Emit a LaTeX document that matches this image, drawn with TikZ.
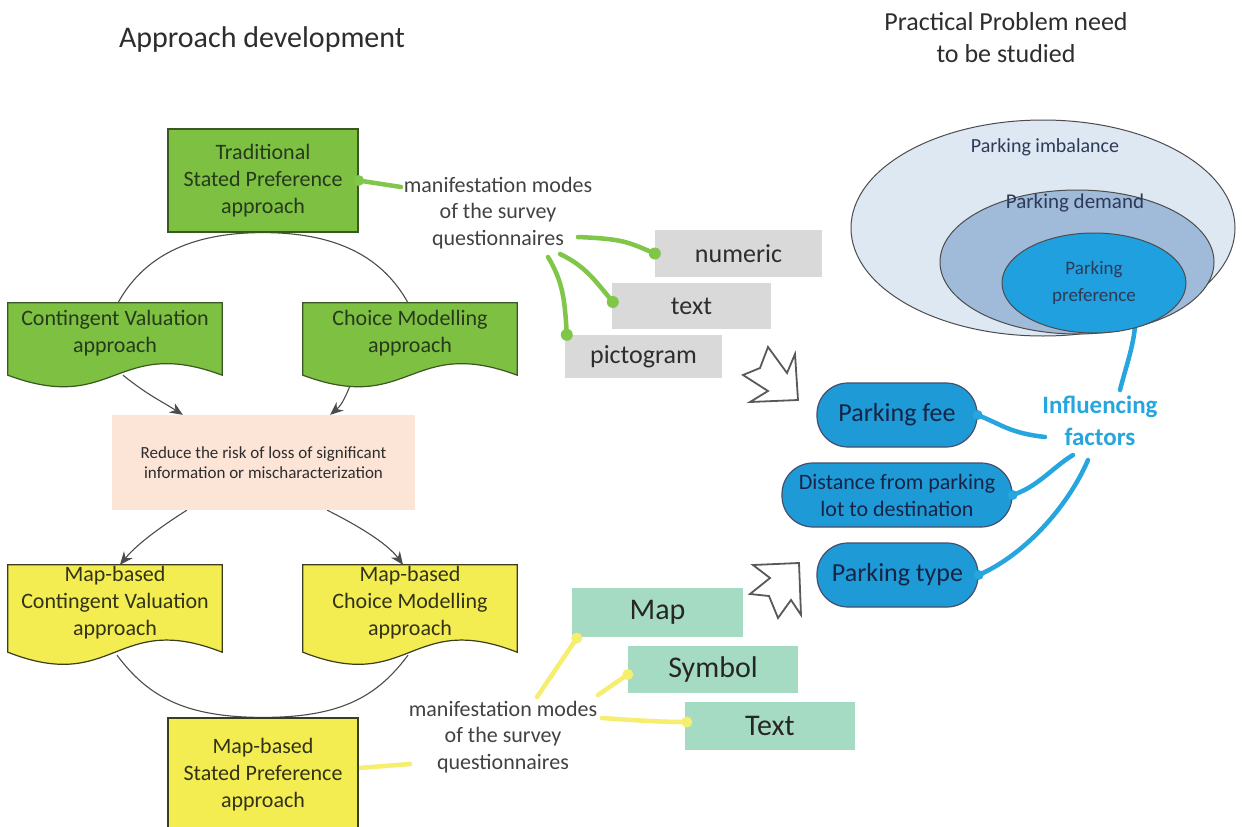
\documentclass[tikz,border=0pt]{standalone}
\usepackage{fontspec}
\setmainfont{Carlito}
\usetikzlibrary{calc,arrows.meta,shapes.geometric}
\pgfdeclarelayer{paper}
\pgfdeclarelayer{links}
\pgfdeclarelayer{shapes}
\pgfsetlayers{paper,links,shapes,main}

\definecolor{sgreen}{RGB}{125,192,66}
\definecolor{sgreenedge}{RGB}{58,88,34}
\definecolor{greentext}{RGB}{38,58,28}
\definecolor{gline}{RGB}{128,198,72}
\definecolor{syellow}{RGB}{243,237,82}
\definecolor{yellowedge}{RGB}{60,60,30}
\definecolor{yellowtext}{RGB}{50,50,25}
\definecolor{yline}{RGB}{246,238,110}
\definecolor{peach}{RGB}{252,229,214}
\definecolor{lgray}{RGB}{217,217,217}
\definecolor{mint}{RGB}{166,219,195}
\definecolor{ellA}{RGB}{222,232,243}
\definecolor{ellB}{RGB}{160,186,218}
\definecolor{ellC}{RGB}{32,160,222}
\definecolor{pillblue}{RGB}{30,154,214}
\definecolor{bline}{RGB}{38,165,222}
\definecolor{navy}{RGB}{22,36,70}
\definecolor{ink}{RGB}{45,45,45}

\begin{document}
\begin{tikzpicture}[x=1pt,y=-1pt,
  lbl/.style={inner sep=0pt, align=center, text=ink},
  titletext/.style={lbl, font=\fontsize{30}{36}\selectfont},
  headtext/.style={lbl, font=\fontsize{26}{32}\selectfont},
  greenbox/.style={rectangle, inner sep=0pt, align=center, fill=sgreen,
    draw=sgreenedge, line width=1.2pt, text=greentext,
    font=\fontsize{22}{27}\selectfont},
  yellowbox/.style={greenbox, fill=syellow, draw=yellowedge, text=yellowtext},
  doclabel/.style={rectangle, inner sep=0pt, align=center,
    font=\fontsize{22}{27}\selectfont},
  greendoc/.style={fill=sgreen, draw=sgreenedge, line width=1.2pt},
  yellowdoc/.style={fill=syellow, draw=yellowedge, line width=1.2pt},
  modes/.style={lbl, text=ink!90, font=\fontsize{22}{26.5}\selectfont},
  graybox/.style={rectangle, inner sep=0pt, fill=lgray, text=ink,
    font=\fontsize{26}{30}\selectfont},
  mintbox/.style={rectangle, inner sep=0pt, fill=mint, text=black!85,
    font=\fontsize{30}{34}\selectfont},
  ring/.style={ellipse, inner sep=0pt, draw=black!70, line width=1pt},
  ringtext/.style={lbl, text=navy!90, font=\fontsize{20}{27}\selectfont},
  pill/.style={rectangle, rounded corners=31pt, inner sep=0pt, align=center,
    fill=pillblue, draw=navy!80, line width=1.2pt, text=navy},
  conn/.style={draw=ink!85, line width=1.1pt},
  arr/.style={conn, -{Stealth[length=13pt,width=11pt]}},
  gl/.style={draw=gline, line width=4.5pt, line cap=round},
  yl/.style={draw=yline, line width=4.5pt, line cap=round},
  bl/.style={draw=bline, line width=4.5pt, line cap=round},
  hollow/.style={fill=white, draw=black!65, line width=1.8pt, line join=miter},
]
\useasboundingbox (0,0) rectangle (1242,827);
\begin{pgfonlayer}{paper}
  \fill[white] (0,0) rectangle (1242,827);
\end{pgfonlayer}

% ---------- headings ----------
\node[titletext] (ttl) at (262,40) {Approach development};
\node[headtext] (ptl) at (1006,38) {Practical Problem need\\to be studied};

% ---------- approach development (left column) ----------
\node[greenbox, minimum width=190, minimum height=103] (tsp) at (263,180.5)
  {Traditional\\Stated Preference\\approach};
\node[doclabel, text=greentext, minimum width=214, minimum height=60] (cv) at (115,333)
  {Contingent Valuation\\approach};
\node[doclabel, text=greentext, minimum width=214, minimum height=60] (cm) at (410,333)
  {Choice Modelling\\approach};
\node[rectangle, inner sep=0pt, fill=peach, minimum width=303, minimum height=95,
  align=center, text=ink, font=\fontsize{17}{20}\selectfont] (rr) at (263.5,462.5)
  {Reduce the risk of loss of significant\\information or mischaracterization};
\node[doclabel, text=yellowtext, minimum width=214, minimum height=76] (mcv) at (115,603)
  {Map-based\\Contingent Valuation\\approach};
\node[doclabel, text=yellowtext, minimum width=214, minimum height=76] (mcm) at (410,603)
  {Map-based\\Choice Modelling\\approach};
\node[yellowbox, minimum width=190, minimum height=114] (msp) at (263,775)
  {Map-based\\Stated Preference\\approach};

% document shapes with a wavy lower edge
\begin{pgfonlayer}{shapes}
  \foreach \d in {cv,cm}
    \draw[greendoc] (\d.north west) -- (\d.north east) -- ($(\d.south east)+(0,12)$)
      .. controls +(-107,-40) and +(107,40) .. ($(\d.south west)+(0,12)$) -- cycle;
  \foreach \d in {mcv,mcm}
    \draw[yellowdoc] (\d.north west) -- (\d.north east) -- ($(\d.south east)+(0,11)$)
      .. controls +(-107,-42) and +(107,42) .. ($(\d.south west)+(0,11)$) -- cycle;
\end{pgfonlayer}

% ---------- manifestation modes (upper) ----------
\node[modes] (mm1) at (498,213) {manifestation modes\\of the survey\\questionnaires};
\node[graybox, minimum width=167, minimum height=47] (num) at (738.5,253.5) {numeric};
\node[graybox, minimum width=159, minimum height=46] (txt) at (691.5,306) {text};
\node[graybox, minimum width=157, minimum height=43] (pic) at (643.5,356.5) {pictogram};

% ---------- manifestation modes (lower) ----------
\node[modes] (mm2) at (503,737) {manifestation modes\\of the survey\\questionnaires};
\node[mintbox, minimum width=171, minimum height=49] (map) at (657.5,612.5) {Map};
\node[mintbox, minimum width=170, minimum height=47] (sym) at (713,669.5) {Symbol};
\node[mintbox, minimum width=170, minimum height=48] (tx) at (770,726) {Text};

% ---------- practical problem ----------
\node[ring, fill=ellA, minimum width=384, minimum height=216] (imb) at (1043,228) {};
\node[ring, fill=ellB, minimum width=274, minimum height=144] (dem) at (1077,262) {};
\node[ring, fill=ellC, minimum width=184, minimum height=100, align=center,
  text=navy!90, font=\fontsize{19}{27}\selectfont] (pref) at (1094,283) {Parking\\preference};
\node[ringtext] (imbl) at ($(imb.north)+(2,28)$) {Parking imbalance};
\node[ringtext, font=\fontsize{21}{27}\selectfont] (deml) at ($(dem.north)+(-2,14)$) {Parking demand};

\node[lbl, text=bline, font=\bfseries\fontsize{25}{32}\selectfont] (inf) at (1100,421)
  {Influencing\\factors};
\node[pill, minimum width=160, minimum height=64, font=\fontsize{26}{30}\selectfont] (fee)
  at (897,415) {Parking fee};
\node[pill, minimum width=230, minimum height=64, font=\fontsize{22}{27}\selectfont] (dist)
  at (897,495) {Distance from parking\\lot to destination};
\node[pill, minimum width=161, minimum height=64, font=\fontsize{26}{30}\selectfont] (ptype)
  at (897.5,575) {Parking type};

% hollow jagged arrows
\draw[hollow] (768,347) -- (760,368) -- (743,375) -- (768,391) -- (750,402)
  -- (798,400) -- (795,354) -- (787,373) -- cycle;
\draw[hollow] (753,565) -- (799,563) -- (801,615) -- (791,600) -- (778,618)
  -- (769,596) -- (750,594) -- (770,578) -- cycle;

% free ends of the leader lines beside the labels
\coordinate (g0) at (401,187);
\coordinate (q1) at (578,237);
\coordinate (q2) at (560,254);
\coordinate (q3) at (548,257);
\coordinate (y0) at (410,764);
\coordinate (y1) at (537,697);
\coordinate (y2) at (598,695);
\coordinate (y3) at (602,718);
\coordinate (b0) at (1120,390);
\coordinate (b1) at (1045,437);
\coordinate (b2) at (1073,455);
\coordinate (b3) at (1088,460);

\begin{pgfonlayer}{links}
  % cycle of the approaches
  \draw[conn] ($(cv.north)+(3,0)$) .. controls +(25,-45) and +(-75,0) .. (tsp.south)
    .. controls +(75,0) and +(-25,-45) .. ($(cm.north)+(-2,0)$);
  \draw[arr] ($(cv.south)+(8,12)$) .. controls +(25,20) and +(-22,-14) .. ($(rr.north west)+(71,0)$);
  \draw[arr] ($(cm.south)+(-55,12)$) .. controls +(-8,16) and +(14,-12) .. ($(rr.north east)+(-85,0)$);
  \draw[arr] ($(rr.south west)+(75,0)$) .. controls +(-22,14) and +(18,-22) .. ($(mcv.north)+(5,0)$);
  \draw[arr] ($(rr.south east)+(-88,0)$) .. controls +(28,14) and +(-16,-22) .. ($(mcm.north)+(-7,0)$);
  \draw[conn] ($(mcv.south)+(2,14)$) .. controls +(30,40) and +(-80,0) .. (msp.north)
    .. controls +(80,0) and +(-30,40) .. ($(mcm.south)+(-2,14)$);

  % green leaders
  \draw[gl] (tsp.east) -- (g0);
  \draw[gl] (q1) .. controls +(45,2) and +(-28,-12) .. (num.west);
  \draw[gl] (q2) .. controls +(25,12) and +(-18,-22) .. ($(txt.west)+(1,-4)$);
  \draw[gl] (q3) .. controls +(15,25) and +(-2,-35) .. ($(pic.north west)+(2,0)$);

  % yellow leaders
  \draw[yl] ($(msp.east)+(0,-7)$) -- (y0);
  \draw[yl] (y1) -- ($(map.south west)+(5,1)$);
  \draw[yl] (y2) -- ($(sym.west)+(0,5)$);
  \draw[yl] (y3) .. controls +(30,2) and +(-30,0) .. ($(tx.west)+(2,-4)$);

  % blue leaders
  \draw[bl] (pref.312) .. controls +(-2,20) and +(5,-20) .. (b0);
  \draw[bl] (fee.east) .. controls +(25,10) and +(-35,-4) .. (b1);
  \draw[bl] (dist.east) .. controls +(25,-8) and +(-20,12) .. (b2);
  \draw[bl] (ptype.east) .. controls +(50,-22) and +(-18,42) .. (b3);
\end{pgfonlayer}

% dots at the ends of the leaders
\fill[gline] (tsp.east) circle[radius=5.5pt];
\fill[gline] (num.west) circle[radius=6pt];
\fill[gline] ($(txt.west)+(1,-4)$) circle[radius=6pt];
\fill[gline] ($(pic.north west)+(2,0)$) circle[radius=6pt];
\fill[yline] ($(map.south west)+(5,1)$) circle[radius=5.5pt];
\fill[yline] ($(sym.west)+(0,5)$) circle[radius=5.5pt];
\fill[yline] ($(tx.west)+(2,-4)$) circle[radius=5.5pt];
\fill[bline] (fee.east) circle[radius=5pt];
\fill[bline] (dist.east) circle[radius=5pt];
\fill[bline] (ptype.east) circle[radius=5pt];
\end{tikzpicture}
\end{document}
